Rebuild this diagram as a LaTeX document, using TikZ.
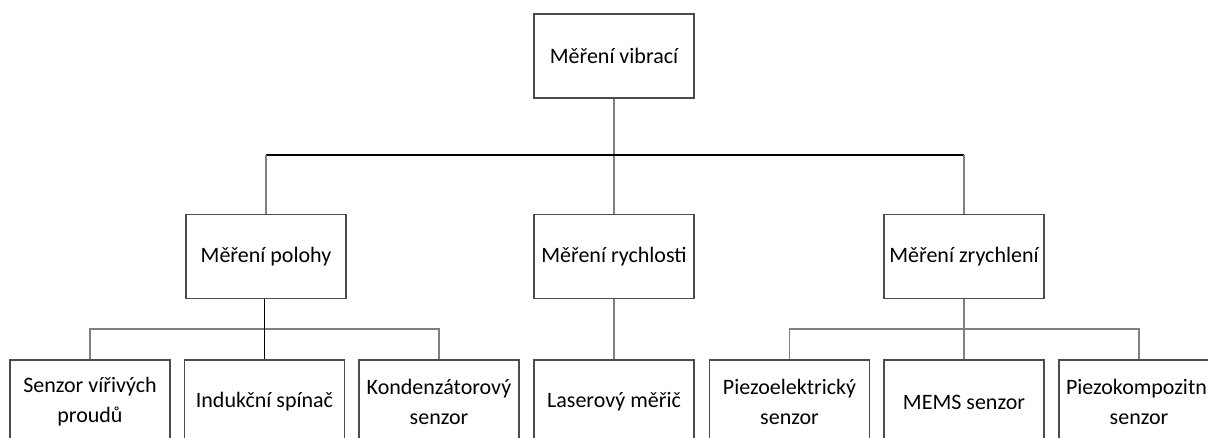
\documentclass[tikz,border=0pt]{standalone}
\usepackage{fontspec}
\setmainfont{Carlito}
\usetikzlibrary{positioning}
\tikzset{
  box/.style={draw=black!70, line width=1.2pt, rectangle, minimum width=160pt, minimum height=84pt,
    inner sep=0pt, align=center, font=\fontsize{22}{30}\selectfont},
  link/.style={draw=black!50, line width=1.2pt},
  linkdark/.style={draw=black, line width=1.2pt}
}
\begin{document}
\begin{tikzpicture}[x=1pt,y=-1pt]
    \useasboundingbox (0,0) rectangle (1208,437);

    %koren
    \node[box] (V) at (614,56) {Měření vibrací};

    %druha uroven
    \node[box] (P) at (266,256.5) {Měření polohy};
    \node[box] (R) at (614,256.5) {Měření rychlosti};
    \node[box] (Z) at (964,256.5) {Měření zrychlení};

    %treti uroven
    \node[box] (P1) at (90,402) {Senzor vířivých\\proudů};
    \node[box] (P2) at (264.5,402) {Indukční spínač};
    \node[box] (P3) at (439,402) {Kondenzátorový\\senzor};
    \node[box] (L) at (614,402) {Laserový měřič};
    \node[box] (Z1) at (789.5,402) {Piezoelektrický\\senzor};
    \node[box] (Z2) at (964,402) {MEMS senzor};
    \node[box] (Z3) at (1139,402) {Piezokompozitní\\senzor};

    \coordinate (bar) at (0,155);
    \coordinate (barP) at (0,329);

    %spojnice
    \draw[link] (V.south) -- (R.north);
    \draw[linkdark] (P.north |- bar) -- (Z.north |- bar);
    \draw[link] (P.north |- bar) -- (P.north);
    \draw[link] (Z.north |- bar) -- (Z.north);

    \draw[link] (P1.north) |- (P2.north |- barP) -| (P3.north);
    \draw[linkdark] (P2.north |- P.south) -- (P2.north);
    \draw[link] (R.south) -- (L.north);
    \draw[link] (Z1.north) |- (Z2.north |- barP) -| (Z3.north);
    \draw[link] (Z.south) -- (Z2.north);

\end{tikzpicture}
\end{document}
